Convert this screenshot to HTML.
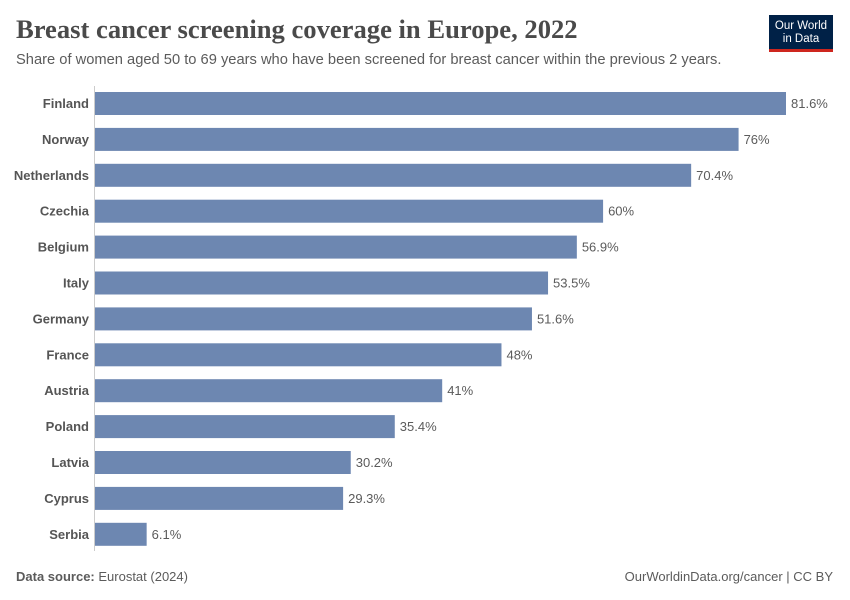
<!DOCTYPE html>
<html><head><meta charset="utf-8"><style>
body{margin:0;background:#fff;width:850px;height:600px;overflow:hidden;font-family:"Liberation Sans",sans-serif}
#title{position:absolute;left:16px;top:14px;font-family:"Liberation Serif",serif;font-size:26.6px;font-weight:bold;color:#4a4a4a;margin:0}
#sub{position:absolute;left:16px;top:52px;font-size:14.7px;color:#5b5b5b}
#logo{position:absolute;left:769px;top:15px;width:64px;height:37px;background:#002147;color:#fff;font-size:11.5px;line-height:13px;text-align:center;box-sizing:border-box;padding-top:5px;border-bottom:3px solid #ce261e}
.foot{position:absolute;top:569px;font-size:13px;color:#5b5b5b}
</style></head><body>
<h1 id="title">Breast cancer screening coverage in Europe, 2022</h1>
<div id="sub">Share of women aged 50 to 69 years who have been screened for breast cancer within the previous 2 years.</div>
<div id="logo">Our World<br>in Data</div>
<svg id="chart" width="850" height="600" style="position:absolute;left:0;top:0"></svg>
<div class="foot" style="left:16px"><b>Data source:</b> Eurostat (2024)</div>
<div class="foot" style="right:17px">OurWorldinData.org/cancer | CC BY</div>
<script>
const countries=["Finland","Norway","Netherlands","Czechia","Belgium","Italy","Germany","France","Austria","Poland","Latvia","Cyprus","Serbia"];
const values=[81.6,76,70.4,60,56.9,53.5,51.6,48,41,35.4,30.2,29.3,6.1];
const labels=["81.6%","76%","70.4%","60%","56.9%","53.5%","51.6%","48%","41%","35.4%","30.2%","29.3%","6.1%"];
const svg=document.getElementById('chart');const NS="http://www.w3.org/2000/svg";
const x0=95,pxPer=(786-95)/81.6;
const xs=v=>x0+v*pxPer;
const ys=i=>103.5+i*35.9;
const bh=23;
function mk(t,a){const e=document.createElementNS(NS,t);for(const k in a)e.setAttribute(k,a[k]);svg.appendChild(e);return e;}
const ax=mk('line',{x1:94.5,x2:94.5,y1:86,y2:551,stroke:'#ccc'});


countries.forEach((c,i)=>{
 const cy=ys(i);
 const r=mk('rect',{x:x0,y:cy-bh/2,width:xs(values[i])-x0,height:bh,fill:'#6d87b1'});
 
 
 const t=mk('text',{x:89,y:cy+4.5,'text-anchor':'end','font-size':13,'font-weight':'bold',fill:'#555','font-family':'Liberation Sans, sans-serif'});
 t.textContent=c;
 
 
 const v=mk('text',{x:xs(values[i])+5,y:cy+4.5,'font-size':13,fill:'#5b5b5b','font-family':'Liberation Sans, sans-serif'});
 v.textContent=labels[i];
 
 
});
</script>
</body></html>
